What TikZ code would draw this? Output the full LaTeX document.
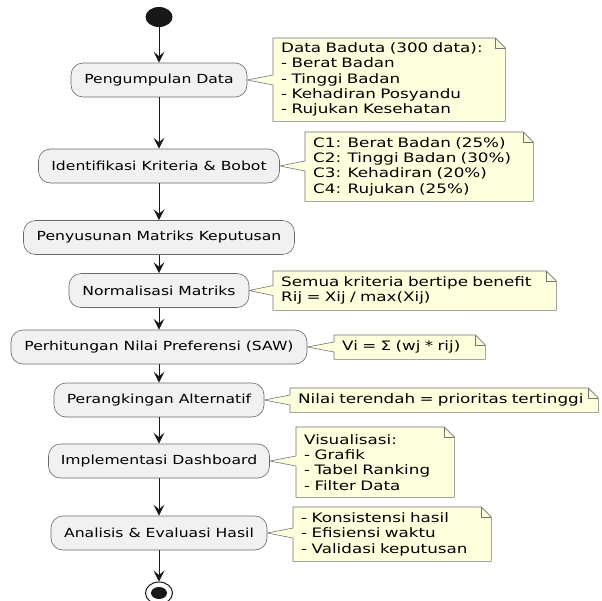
\documentclass[tikz,border=0pt]{standalone}
\usepackage{fontspec}
\setmainfont{DejaVu Sans}
\newfontfamily\boxfont[FakeStretch=1.25]{DejaVu Sans}
\newfontfamily\notefont[FakeStretch=1.29]{DejaVu Sans}
\usetikzlibrary{arrows.meta,shapes.geometric,backgrounds}
\definecolor{boxfill}{HTML}{F1F1F1}
\definecolor{boxline}{HTML}{181818}
\definecolor{notefill}{HTML}{FEFFDD}
\newcommand\drawnote[2]{%
  \begin{pgfonlayer}{background}
  \path[noteline] (#1.north west) -- ([xshift=-10pt]#1.north east) -- ([yshift=-10pt]#1.north east) -- (#1.south east) -- (#1.south west) -- ([yshift=-5pt]#1.west |- #2.east) -- (#2.east) -- ([yshift=5pt]#1.west |- #2.east) -- cycle;
  \draw[draw=boxline!60, line width=0.6pt] ([xshift=-10pt]#1.north east) |- ([yshift=-10pt]#1.north east);
  \end{pgfonlayer}}
\begin{document}
\begin{tikzpicture}[x=1pt,y=-1pt,
  actbox/.style={draw=boxline!65, line width=0.6pt, fill=boxfill, rounded corners=12pt, minimum height=34pt, inner sep=0pt, font=\boxfont\fontsize{12.5}{15}\selectfont, text=black},
  notetext/.style={anchor=north west, inner xsep=8pt, inner ysep=0pt, align=left, font=\notefont\fontsize{13}{15.3}\selectfont, text=black},
  flow/.style={draw=boxline, line width=1pt, -{Stealth[length=11pt,width=11pt,inset=4.5pt]}},
  noteline/.style={draw=boxline!60, line width=0.6pt, fill=notefill, line join=miter}
]
\useasboundingbox (0,0) rectangle (602,600);
\begin{pgfonlayer}{background}
\fill[white] (0,0) rectangle (602,600);
\end{pgfonlayer}

\node[ellipse, fill=boxline, minimum width=27pt, minimum height=20pt, inner sep=0pt] (start) at (159,17) {};

\node[actbox, minimum width=176pt] (b1) at (159,80) {Pengumpulan Data};
\node[actbox, minimum width=241pt] (b2) at (159,166) {Identifikasi Kriteria \& Bobot};
\node[actbox, minimum width=271pt] (b3) at (159,237.5) {Penyusunan Matriks Keputusan};
\node[actbox, minimum width=180pt] (b4) at (159,290.5) {Normalisasi Matriks};
\node[actbox, minimum width=296pt] (b5) at (159,347) {Perhitungan Nilai Preferensi (SAW)};
\node[actbox, minimum width=210pt] (b6) at (159,400) {Perangkingan Alternatif};
\node[actbox, minimum width=221pt] (b7) at (159,461) {Implementasi Dashboard};
\node[actbox, minimum width=216pt] (b8) at (159,533) {Analisis \& Evaluasi Hasil};

\node[ellipse, draw=boxline, line width=1pt, fill=white, minimum width=27pt, minimum height=22pt, inner sep=0pt] (stop) at (159,593) {};
\node[ellipse, fill=boxline, minimum width=16pt, minimum height=12pt, inner sep=0pt] (stopin) at (stop.center) {};

\draw[flow] (start) -- (b1);
\draw[flow] (b1) -- (b2);
\draw[flow] (b2) -- (b3);
\draw[flow] (b3) -- (b4);
\draw[flow] (b4) -- (b5);
\draw[flow] (b5) -- (b6);
\draw[flow] (b6) -- (b7);
\draw[flow] (b7) -- (b8);
\draw[flow] (b8) -- (stop);

\node[notetext, text width=216pt, minimum height=83pt] (n1) at (273,38) {Data Baduta (300 data):\\- Berat Badan\\- Tinggi Badan\\- Kehadiran Posyandu\\- Rujukan Kesehatan};
\drawnote{n1}{b1}
\node[notetext, text width=212pt, minimum height=69pt] (n2) at (305,132) {C1: Berat Badan (25\%)\\C2: Tinggi Badan (30\%)\\C3: Kehadiran (20\%)\\C4: Rujukan (25\%)};
\drawnote{n2}{b2}
\node[notetext, text width=267pt, minimum height=39pt] (n3) at (273,271) {Semua kriteria bertipe benefit\\Rij = Xij / max(Xij)};
\drawnote{n3}{b4}
\node[notetext, text width=135pt, minimum height=24pt] (n4) at (334,335) {Vi = Σ (wj * rij)};
\drawnote{n4}{b5}
\node[notetext, text width=292pt, minimum height=24pt] (n5) at (290,388) {Nilai terendah = prioritas tertinggi};
\drawnote{n5}{b6}
\node[notetext, text width=142pt, minimum height=70pt] (n6) at (296,427) {Visualisasi:\\- Grafik\\- Tabel Ranking\\- Filter Data};
\drawnote{n6}{b7}
\node[notetext, text width=182pt, minimum height=54pt] (n7) at (293,507) {- Konsistensi hasil\\- Efisiensi waktu\\- Validasi keputusan};
\drawnote{n7}{b8}
\end{tikzpicture}
\end{document}
